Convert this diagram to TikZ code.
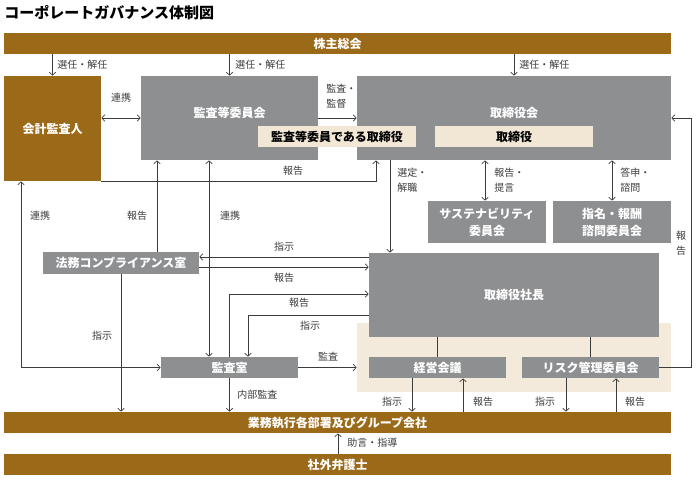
\documentclass[tikz,border=0pt]{standalone}
\usepackage{fontspec}
\setmainfont{Noto Sans CJK JP}
\usepackage{xcolor}
\usepackage{tikz}
\usetikzlibrary{arrows.meta,calc}
\definecolor{kinbrown}{RGB}{155,106,24}
\definecolor{boxgrey}{RGB}{142,143,145}
\definecolor{boxbeige}{RGB}{242,230,212}
\definecolor{zonebeige}{RGB}{244,234,220}
\definecolor{linegrey}{RGB}{60,60,60}
\tikzset{
lbl/.style={
    font=\fontsize{10}{15}\selectfont, text=linegrey,
    inner sep=0pt, align=left
  }
}

\begin{document}
\begin{tikzpicture}[
 x=1pt, y=-1pt,
 brownbar/.style={
        rectangle, fill=kinbrown, minimum width=667pt, minimum height=21pt,
        inner sep=0pt, text=white, font=\bfseries\fontsize{12}{14}\selectfont
    },
 greybox/.style={
        rectangle, fill=boxgrey, minimum width=137pt, minimum height=21pt,
        inner sep=0pt, text=white, align=center,
        font=\bfseries\fontsize{12}{17}\selectfont
    },
 boxtext/.style={text=white, inner sep=0pt, font=\bfseries\fontsize{12}{14}\selectfont},
 beigebox/.style={
        rectangle, fill=boxbeige, minimum width=158pt, minimum height=21pt,
        inner sep=0pt, text=black, font=\bfseries\fontsize{12}{14}\selectfont
    },
 zone/.style={rectangle, fill=zonebeige, minimum width=314pt, minimum height=69pt},
    ->, >={Straight Barb[length=3pt,width=6.5pt]}, line width=0.7pt, color=linegrey
  ]
\useasboundingbox (0,0) rectangle (700,480);

\node[anchor=west, inner sep=0pt, text=black, font=\bfseries\fontsize{15}{17}\selectfont] (title) at (4,13) {コーポレートガバナンス体制図};

\node[brownbar] (kabu) at (337.5,43.5) {株主総会};
\node[brownbar, minimum width=97pt, minimum height=105pt] (kaikei) at (52.5,128.5) {会計監査人};
\node[greybox, minimum width=177pt, minimum height=84pt,
      label={[boxtext,yshift=5pt]center:監査等委員会}] (kansaiin) at (229.5,118) {};
\node[greybox, minimum width=314pt, minimum height=84pt,
      label={[boxtext,yshift=5pt]center:取締役会}] (torikai) at (514,118) {};
\node[beigebox] (kansatori) at (337,136.5) {監査等委員である取締役};
\node[beigebox] (tori) at (514,136.5) {取締役};
\node[greybox, minimum width=118pt, minimum height=42pt] (sustain) at (487,222) {サステナビリティ\\委員会};
\node[greybox, minimum width=118pt, minimum height=42pt] (shimei) at (612,222) {指名・報酬\\諮問委員会};
\node[greybox, minimum width=156pt, minimum height=22pt] (houmu) at (121,263) {法務コンプライアンス室};
\node[zone] (keieizone) at (514,357.5) {};
\node[greybox, minimum width=290pt, minimum height=84pt] (shachou) at (514,295) {取締役社長};
\node[greybox] (keiei) at (437.5,367.5) {経営会議};
\node[greybox] (risk) at (590.5,367.5) {リスク管理委員会};
\node[greybox] (kansashitsu) at (229.5,367.5) {監査室};
\node[brownbar] (gyomu) at (337.5,422.5) {業務執行各部署及びグループ会社};
\node[brownbar] (bengoshi) at (337.5,464.5) {社外弁護士};

% 株主総会から
\draw (kaikei.north |- kabu.south) -- (kaikei.north);
\draw (kansaiin.north |- kabu.south) -- (kansaiin.north);
\draw (torikai.north |- kabu.south) -- (torikai.north);
\node[lbl, anchor=west] (sen1) at (57,65) {選任・解任};
\node[lbl, anchor=west] (sen2) at (235,65) {選任・解任};
\node[lbl, anchor=west] (sen3) at (519,65) {選任・解任};

% 上段
\draw[<->] (kansaiin.west -| kaikei.east) -- (kansaiin.west);
\node[lbl] (renkei1) at (121,98) {連携};
\draw (kansaiin.east) -- (torikai.west);
\node[lbl, anchor=west] (kansa1) at (326,96) {監査・\\監督};
\draw (kaikei.south east) -| (376,0 |- torikai.south);
\node[lbl] (hou1) at (293,171) {報告};

% 取締役会の下
\draw (390,0 |- torikai.south) -- (390,0 |- shachou.north);
\node[lbl, anchor=west] (sentei) at (397,180.5) {選定・\\解職};
\draw[<->] (485,0 |- torikai.south) -- (485,0 |- sustain.north);
\node[lbl, anchor=west] (teigen) at (494,180.5) {報告・\\提言};
\draw[<->] (612,0 |- torikai.south) -- (612,0 |- shimei.north);
\node[lbl, anchor=west] (toushin) at (620,180.5) {答申・\\諮問};

% 左側
\draw[<->] (21,0 |- kaikei.south) |- (kansashitsu.west);
\node[lbl] (renkei2) at (40,216) {連携};
\draw (157,0 |- houmu.north) -- (157,0 |- kansaiin.south);
\node[lbl] (hou2) at (137,216) {報告};
\draw[<->] (209,0 |- kansaiin.south) -- (209,0 |- kansashitsu.north);
\node[lbl] (renkei3) at (230,216) {連携};
\draw (houmu.south) -- (houmu.south |- gyomu.north);
\node[lbl] (shiji1) at (102,336) {指示};

% 取締役社長と左
\draw (shachou.west |- 0,257) -- (houmu.east |- 0,257);
\node[lbl] (shiji2) at (284,247) {指示};
\draw (houmu.east |- 0,267) -- (shachou.west |- 0,267);
\node[lbl] (hou3) at (284,278) {報告};
\draw (kansashitsu.north) |- (shachou.west |- 0,294);
\node[lbl] (hou4) at (299,303) {報告};
\draw (shachou.west |- 0,315) -| (248,0 |- kansashitsu.north);
\node[lbl] (shiji3) at (310,326) {指示};

% 監査室
\draw (kansashitsu.east) -- (kansashitsu.east -| keieizone.west);
\node[lbl] (kansa2) at (328,357) {監査};
\draw (kansashitsu.south) -- (kansashitsu.south |- gyomu.north);
\node[lbl, anchor=west] (naibu) at (237,395) {内部監査};

% 経営会議・リスク管理委員会
\draw[-] (keiei.north |- shachou.south) -- (keiei.north);
\draw[-] (risk.north |- shachou.south) -- (risk.north);
\draw (412,0 |- keiei.south) -- (412,0 |- gyomu.north);
\node[lbl] (shiji4) at (392,402) {指示};
\draw (463,0 |- gyomu.north) -- (463,0 |- keiei.south);
\node[lbl] (hou5) at (483,402) {報告};
\draw (566,0 |- risk.south) -- (566,0 |- gyomu.north);
\node[lbl] (shiji5) at (545,402) {指示};
\draw (616,0 |- gyomu.north) -- (616,0 |- risk.south);
\node[lbl] (hou6) at (635,402) {報告};
\draw (risk.east) -| (691,0 |- torikai.east) -- (torikai.east);
\node[lbl, align=center] (hou7) at (681,243) {報\\告};

% 社外弁護士
\draw (338,0 |- bengoshi.north) -- (338,0 |- gyomu.south);
\node[lbl, anchor=west] (jogen) at (347,443) {助言・指導};
\end{tikzpicture}
\end{document}
